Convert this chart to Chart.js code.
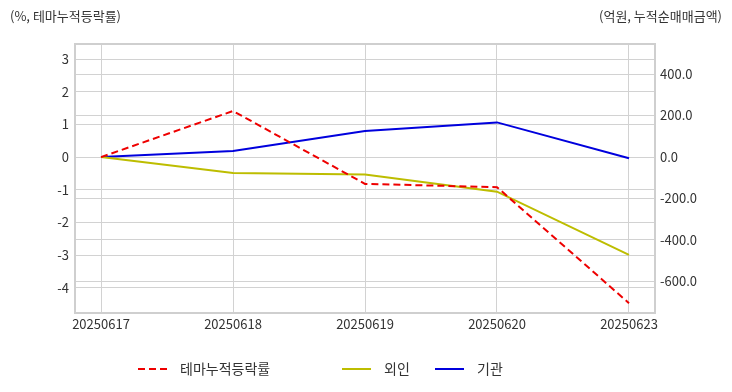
<!DOCTYPE html>
<html>
<head>
<meta charset="utf-8">
<script src="https://cdn.jsdelivr.net/npm/chart.js@4"></script>
<style>
  body { margin: 0; background: #fff; font-family: "Noto Sans CJK KR", sans-serif; }
  #wrap { position: relative; width: 732px; height: 392px; }
  .ttl { position: absolute; top: 6px; font-size: 13px; color: #333; }
</style>
</head>
<body>
<div id="wrap">
  <span class="ttl" style="left:10px">(%, 테마누적등락률)</span>
  <span class="ttl" style="right:10px">(억원, 누적순매매금액)</span>
  <canvas id="c" width="732" height="392"></canvas>
</div>
<script>
const dates = ['20250617', '20250618', '20250619', '20250620', '20250623'];
const themeRate = [0, 1.41, -0.82, -0.92, -4.47];   // %
const foreign = [0, -77, -84, -167, -472];          // 억원
const institution = [0, 29, 125, 167, -6];          // 억원

const legendX = [138, 342, 435];
const FONT = '"Noto Sans CJK KR", sans-serif';

function toPoints(arr) {
  return arr.map((v, i) => ({ x: i, y: v }));
}

const frame = {
  id: 'frame',
  beforeDatasetsDraw(chart) {
    const a = chart.chartArea, ctx = chart.ctx;
    ctx.save();
    ctx.strokeStyle = '#cfcfcf';
    ctx.lineWidth = 2;
    ctx.strokeRect(a.left, a.top, a.right - a.left, a.bottom - a.top);
    ctx.restore();
  }
};

const bottomLegend = {
  id: 'bottomLegend',
  afterDraw(chart) {
    const ctx = chart.ctx;
    const y = 369;
    chart.data.datasets.forEach((ds, i) => {
      const x = legendX[i];
      ctx.save();
      ctx.strokeStyle = ds.borderColor;
      ctx.lineWidth = 2;
      ctx.setLineDash(ds.borderDash || []);
      ctx.beginPath();
      ctx.moveTo(x, y);
      ctx.lineTo(x + 29, y);
      ctx.stroke();
      ctx.setLineDash([]);
      ctx.fillStyle = '#333';
      ctx.font = '14px ' + FONT;
      ctx.textBaseline = 'middle';
      ctx.fillText(ds.label, x + 42, y);
      ctx.restore();
    });
  }
};

const data = {
  datasets: [{
    label: '테마누적등락률',
    data: toPoints(themeRate),
    yAxisID: 'y',
    borderColor: '#ee0000',
    borderDash: [7, 4],
    borderWidth: 2,
    pointRadius: 0,
    tension: 0
  }, {
    label: '외인',
    data: toPoints(foreign),
    yAxisID: 'y1',
    borderColor: '#bdbd00',
    borderWidth: 2,
    pointRadius: 0,
    tension: 0
  }, {
    label: '기관',
    data: toPoints(institution),
    yAxisID: 'y1',
    borderColor: '#0000dd',
    borderWidth: 2,
    pointRadius: 0,
    tension: 0
  }]
};

const tickFont = { family: FONT, size: 13 };

const config = {
  type: 'line',
  data: data,
  options: {
    responsive: false,
    animation: false,
    layout: { padding: { top: 44, bottom: 54, left: 0, right: 0 } },
    plugins: { legend: { display: false }, tooltip: { enabled: false } },
    scales: {
      x: {
        type: 'linear',
        min: -0.197,
        max: 4.197,
        afterBuildTicks: s => { s.ticks = dates.map((d, i) => ({ value: i })); },
        afterFit: s => { s.height = 25; },
        ticks: { callback: v => dates[v], color: '#333', font: tickFont, padding: 3, maxRotation: 0, autoSkip: false },
        grid: { color: '#d2d2d2', drawTicks: false },
        border: { display: false }
      },
      y: {
        position: 'left',
        min: -4.77,
        max: 3.46,
        afterBuildTicks: s => { s.ticks = s.ticks.filter(t => Number.isInteger(t.value)); },
        afterFit: s => { s.width = 75; },
        ticks: { stepSize: 1, color: '#333', font: tickFont, padding: 6 },
        grid: { color: '#d2d2d2', drawTicks: false },
        border: { display: false }
      },
      y1: {
        position: 'right',
        min: -752,
        max: 545,
        afterBuildTicks: s => { s.ticks = s.ticks.filter(t => t.value % 200 === 0); },
        afterFit: s => { s.width = 77; },
        ticks: { stepSize: 200, color: '#333', font: tickFont, padding: 5, callback: v => v.toFixed(1) },
        grid: { color: '#d2d2d2', drawTicks: false },
        border: { display: false }
      }
    }
  },
  plugins: [frame, bottomLegend]
};

new Chart(document.getElementById('c').getContext('2d'), config);
</script>
</body>
</html>
